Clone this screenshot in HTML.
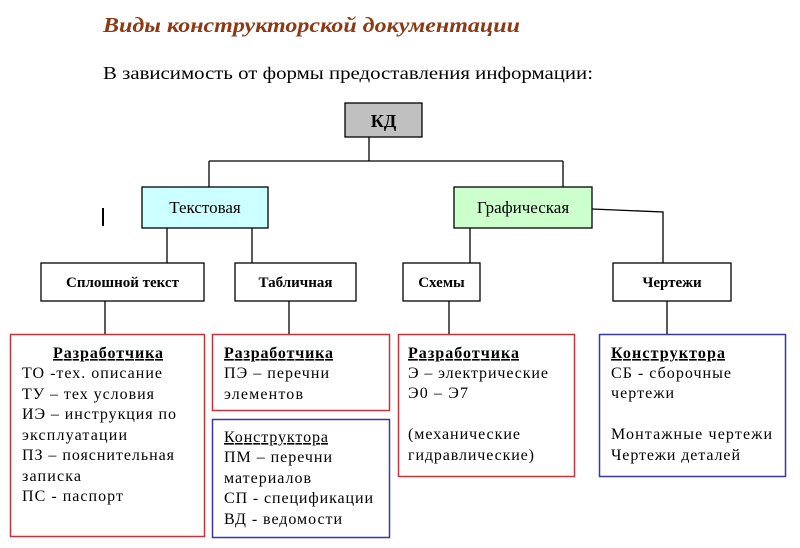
<!DOCTYPE html>
<html><head><meta charset="utf-8"><style>html,body{margin:0;padding:0;background:#fff}svg{display:block}</style></head>
<body>
<svg width="800" height="548" viewBox="0 0 800 548" xmlns="http://www.w3.org/2000/svg" font-family="'Liberation Serif', serif">
<text x="103" y="32" font-size="21" font-weight="bold" font-style="italic" fill="#8b3a14" textLength="417" lengthAdjust="spacingAndGlyphs">Виды конструкторской документации</text>
<text x="103" y="79" font-size="18" fill="#000" textLength="490" lengthAdjust="spacingAndGlyphs">В зависимость от формы предоставления информации:</text>
<g stroke="#000" stroke-width="1.3" fill="none">
<line x1="369" y1="137" x2="369" y2="161"/>
<line x1="209" y1="161" x2="563" y2="161"/>
<line x1="209" y1="161" x2="209" y2="187"/>
<line x1="563" y1="161" x2="563" y2="187"/>
<line x1="167" y1="228" x2="167" y2="263"/>
<line x1="252" y1="228" x2="252" y2="263"/>
<line x1="470" y1="228" x2="470" y2="263"/>
<polyline points="592,209 663,212 663,263"/>
<line x1="105" y1="301" x2="105" y2="334"/>
<line x1="289" y1="301" x2="289" y2="334"/>
<line x1="449" y1="301" x2="449" y2="334"/>
<line x1="667" y1="301" x2="667" y2="334"/>
</g>
<line x1="103" y1="208" x2="103" y2="226" stroke="#000" stroke-width="2"/>
<rect x="345" y="103" width="77" height="34" fill="#c0c0c0" stroke="#000" stroke-width="1.3"/>
<text x="383.5" y="127" font-size="18" font-weight="bold" text-anchor="middle">КД</text>
<rect x="142" y="187" width="126" height="41" fill="#ccffff" stroke="#000" stroke-width="1.3"/>
<text x="205" y="213" font-size="17" text-anchor="middle">Текстовая</text>
<rect x="454" y="187" width="138" height="41" fill="#ccffcc" stroke="#000" stroke-width="1.3"/>
<text x="523" y="213" font-size="17" text-anchor="middle">Графическая</text>
<g fill="#fff" stroke="#000" stroke-width="1.3">
<rect x="41" y="263" width="163" height="38"/>
<rect x="235" y="263" width="121" height="38"/>
<rect x="403" y="263" width="77" height="38"/>
<rect x="613" y="263" width="118" height="38"/>
</g>
<g font-size="15" text-anchor="middle" font-weight="bold">
<text x="122.5" y="287">Сплошной текст</text>
<text x="295.5" y="287">Табличная</text>
<text x="441.5" y="287">Схемы</text>
<text x="672" y="287">Чертежи</text>
</g>
<g fill="none" stroke-width="1.5">
<rect x="10.5" y="334.5" width="194" height="202" stroke="#c8323c"/>
<rect x="212.5" y="334.5" width="177" height="76" stroke="#c8323c"/>
<rect x="212.5" y="419.5" width="177" height="118" stroke="#3838a8"/>
<rect x="398.5" y="334.5" width="176" height="142" stroke="#c8323c"/>
<rect x="599.5" y="334.5" width="186" height="142" stroke="#3838a8"/>
</g>
<g font-size="16" fill="#000" lengthAdjust="spacingAndGlyphs">
<text x="53" y="358" font-weight="bold" text-decoration="underline" textLength="110">Разработчика</text>
<text x="22" y="378" textLength="140">ТО -тех. описание</text>
<text x="22" y="399" textLength="132">ТУ – тех условия</text>
<text x="22" y="419" textLength="154">ИЭ – инструкция по</text>
<text x="22" y="440" textLength="105">эксплуатации</text>
<text x="22" y="460" textLength="152">ПЗ – пояснительная</text>
<text x="22" y="481" textLength="59">записка</text>
<text x="22" y="501" textLength="101">ПС - паспорт</text>

<text x="224" y="358" font-weight="bold" text-decoration="underline" textLength="109">Разработчика</text>
<text x="224" y="378" textLength="105">ПЭ – перечни</text>
<text x="224" y="399" textLength="79">элементов</text>

<text x="224" y="442" text-decoration="underline" textLength="104">Конструктора</text>
<text x="224" y="462" textLength="108">ПМ – перечни</text>
<text x="224" y="483" textLength="87">материалов</text>
<text x="224" y="503" textLength="149">СП - спецификации</text>
<text x="224" y="524" textLength="118">ВД - ведомости</text>

<text x="408" y="358" font-weight="bold" text-decoration="underline" textLength="111">Разработчика</text>
<text x="408" y="378" textLength="140">Э – электрические</text>
<text x="408" y="398" textLength="60">Э0 – Э7</text>
<text x="408" y="439" textLength="112">(механические</text>
<text x="408" y="460" textLength="126">гидравлические)</text>

<text x="611" y="358" font-weight="bold" text-decoration="underline" textLength="114">Конструктора</text>
<text x="611" y="378" textLength="120">СБ - сборочные</text>
<text x="611" y="398" textLength="63">чертежи</text>
<text x="611" y="439" textLength="161">Монтажные чертежи</text>
<text x="611" y="460" textLength="129">Чертежи деталей</text>
</g>
</svg>
</body></html>
